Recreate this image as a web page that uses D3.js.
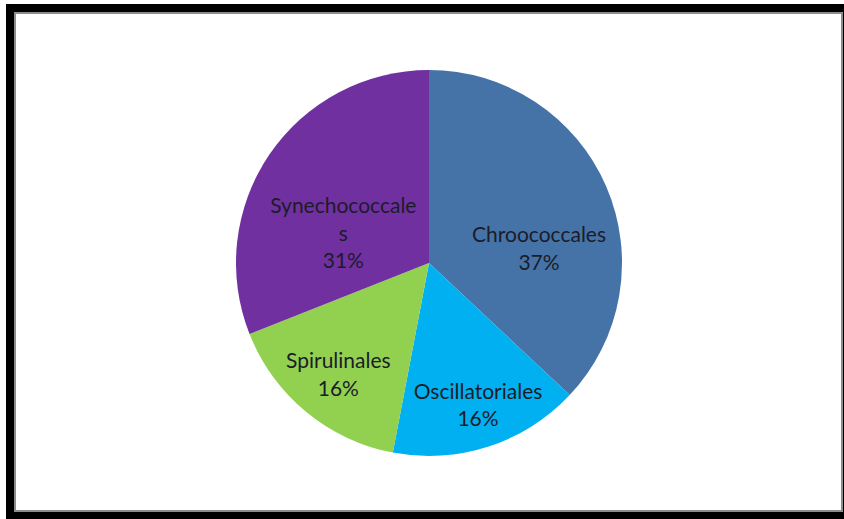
<!DOCTYPE html>
<html>
<head>
<meta charset="utf-8">
<script src="https://cdn.jsdelivr.net/npm/d3@7"></script>
<style>
  html, body { margin: 0; padding: 0; background: #fff; }
  svg { display: block; }
</style>
</head>
<body>
<svg id="chart" width="844" height="519"></svg>
<script>
// Order share of cyanobacteria (percent)
const categories = ["Chroococcales", "Oscillatoriales", "Spirulinales", "Synechococcales"];
const values = [37, 16, 16, 31];
const colors = ["#4573A7", "#00B0F0", "#92D050", "#7030A0"];
// Label text lines as printed in each slice
const labelLines = [
  ["Chroococcales", "37%"],
  ["Oscillatoriales", "16%"],
  ["Spirulinales", "16%"],
  ["Synechococcale", "s", "31%"]
];
// Label placement: radius (fraction of pie radius) and angle shift (degrees) from slice middle
const labelRadius = [0.575, 0.78, 0.745, 0.47];
const labelShift = [16, -1, -0.5, -15];

const W = 844, H = 519;
const svg = d3.select("#chart");

// Frame: dark outer band with a grey-edged white chart area
svg.append("rect").attr("x", 6).attr("y", 4).attr("width", W - 6).attr("height", H - 4).attr("fill", "#000");
svg.append("rect").attr("x", 15).attr("y", 13).attr("width", 827).attr("height", 498)
  .attr("fill", "#fff").attr("stroke", "#8c8c8c").attr("stroke-width", 2);

const cx = 429, cy = 263, r = 193;
const g = svg.append("g").attr("transform", `translate(${cx},${cy})`);

const pie = d3.pie().sort(null).value(d => d);
const arcs = pie(values);
const arc = d3.arc().innerRadius(0).outerRadius(r);

g.selectAll("path.slice").data(arcs).enter().append("path")
  .attr("class", "slice")
  .attr("d", arc)
  .attr("fill", (d, i) => colors[i]);

const lineH = 27.5;
arcs.forEach((d, i) => {
  const mid = (d.startAngle + d.endAngle) / 2 + labelShift[i] * Math.PI / 180;
  const rr = r * labelRadius[i];
  const x = rr * Math.sin(mid), y = -rr * Math.cos(mid);
  const lines = labelLines[i];
  const t = g.append("text")
    .attr("text-anchor", "middle")
    .attr("font-family", "Lato, 'Open Sans', sans-serif")
    .attr("font-size", 21)
    .attr("fill", "#1c1c28");
  lines.forEach((ln, k) => {
    t.append("tspan")
      .attr("x", x)
      .attr("y", y + (k - (lines.length - 1) / 2) * lineH)
      .attr("dy", "0.35em")
      .text(ln);
  });
});
</script>
</body>
</html>
